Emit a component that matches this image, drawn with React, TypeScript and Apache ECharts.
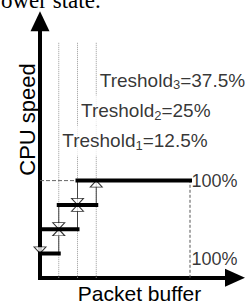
import React, { useEffect, useRef } from "react";
import * as echarts from "echarts";

// ---- data ----
const thresholds = [12.5, 25, 37.5];
const thresholdIndex = ["1", "2", "3"];
const speedLevels = [25, 50, 75, 100];
const stepStart = [0, 0, 12.5, 25];
const stepEnd = [12.5, 25, 37.5, 100];
const transitionX = [12.5, 25, 37.5];
const transitionLow = [25, 50, 75];
const transitionHigh = [75, 100, 100];
const riseArrows = [
  [12.5, 50],
  [25, 75],
  [37.5, 100],
];
const fallArrows = [
  [0, 25],
  [12.5, 50],
  [25, 75],
];
const fullBuffer = 100;
const fullSpeed = 100;
const fullLabel = "100%";
const yAxisName = "CPU speed";
const xAxisName = "Packet buffer";
const captionFragment = "ower state.";

// ---- layout ----
const X_MAX = 130;
const Y_MAX = 264;
const GUIDE_TOP = 242;
const LABEL_Y = [141, 172, 203];
const SANS = '"Liberation Sans", Arial, sans-serif';
const SERIF = '"Liberation Serif", "Times New Roman", serif';

function buildOption() {
  const series: any[] = [];
  thresholds.forEach((t) =>
    series.push({
      type: "line",
      data: [
        [t, 0],
        [t, GUIDE_TOP],
      ],
      symbol: "none",
      silent: true,
      z: 1,
      lineStyle: { color: "#9a9a9a", width: 1, type: [1, 1] },
    })
  );
  series.push({
    type: "line",
    data: [
      [0, fullSpeed],
      [stepStart[3], fullSpeed],
    ],
    symbol: "none",
    silent: true,
    z: 1,
    lineStyle: { color: "#666", width: 1, type: [4, 2] },
  });
  series.push({
    type: "line",
    data: [
      [fullBuffer, 0],
      [fullBuffer, fullSpeed],
    ],
    symbol: "none",
    silent: true,
    z: 1,
    lineStyle: { color: "#555", width: 1, type: [3, 2] },
  });
  transitionX.forEach((x, i) =>
    series.push({
      type: "line",
      data: [
        [x, transitionLow[i]],
        [x, transitionHigh[i]],
      ],
      symbol: "none",
      silent: true,
      z: 2,
      lineStyle: { color: "#444", width: 1 },
    })
  );
  series.push({
    type: "scatter",
    data: riseArrows,
    symbol: "triangle",
    symbolSize: [12, 6.5],
    symbolOffset: [0, 3.3],
    itemStyle: { color: "#fff", borderColor: "#000", borderWidth: 1 },
    silent: true,
    z: 3,
  });
  series.push({
    type: "scatter",
    data: fallArrows,
    symbol: "triangle",
    symbolSize: [12, 6.5],
    symbolRotate: 180,
    symbolOffset: [0, -3.3],
    itemStyle: { color: "#fff", borderColor: "#000", borderWidth: 1 },
    silent: true,
    z: 3,
  });
  speedLevels.forEach((s, i) =>
    series.push({
      type: "line",
      data: [
        [stepStart[i], s],
        [stepEnd[i], s],
      ],
      symbol: "none",
      silent: true,
      z: 4,
      lineStyle: { color: "#000", width: 4, cap: "square" },
    })
  );
  series.push({
    type: "scatter",
    symbolSize: 1,
    itemStyle: { color: "transparent" },
    silent: true,
    z: 5,
    data: thresholds.map((t, i) => ({ value: [t, LABEL_Y[i]] })),
    label: {
      show: true,
      position: "right",
      distance: 1,
      formatter: (p: any) =>
        `Treshold{s|${thresholdIndex[p.dataIndex]}}=${thresholds[p.dataIndex]}%`,
      color: "#000",
      fontFamily: SANS,
      fontSize: 19,
      lineHeight: 22,
      backgroundColor: "#fff",
      padding: [4, 1, 4, 2],
      rich: {
        s: {
          fontSize: 13,
          lineHeight: 13,
          verticalAlign: "bottom",
          fontFamily: SANS,
          color: "#000",
        },
      },
    },
  });
  series.push({
    type: "scatter",
    symbolSize: 1,
    itemStyle: { color: "transparent" },
    silent: true,
    z: 5,
    data: [
      { value: [fullBuffer, fullSpeed] },
      { value: [fullBuffer, 0], label: { offset: [0, -19] } },
    ],
    label: {
      show: true,
      position: "right",
      distance: 1,
      formatter: fullLabel,
      color: "#000",
      fontFamily: SANS,
      fontSize: 18,
    },
  });

  const axisCommon = {
    type: "value",
    axisTick: { show: false },
    axisLabel: { show: false },
    splitLine: { show: false },
  };

  return {
    animation: false,
    backgroundColor: "#fff",
    grid: { left: 40, right: 14, top: 21.2, bottom: 27.2 },
    xAxis: {
      ...axisCommon,
      min: 0,
      max: X_MAX,
      axisLine: {
        show: true,
        onZero: false,
        symbol: ["none", "triangle"],
        symbolSize: [18, 20],
        lineStyle: { color: "#000", width: 4, cap: "square" },
      },
    },
    yAxis: {
      ...axisCommon,
      min: 0,
      max: Y_MAX,
      axisLine: {
        show: true,
        onZero: false,
        symbol: ["none", "triangle"],
        symbolSize: [19, 20],
        lineStyle: { color: "#000", width: 4, cap: "square" },
      },
    },
    series,
    graphic: [
      {
        type: "text",
        x: 27,
        y: 119.5,
        rotation: Math.PI / 2,
        silent: true,
        style: {
          text: yAxisName,
          fill: "#000",
          font: `22px ${SANS}`,
          align: "center",
          verticalAlign: "middle",
        },
      },
      {
        type: "text",
        x: 139.5,
        y: 293,
        silent: true,
        style: {
          text: xAxisName,
          fill: "#000",
          font: `21px ${SANS}`,
          align: "center",
          verticalAlign: "middle",
        },
      },
      {
        type: "text",
        x: 1,
        y: 0.3,
        silent: true,
        style: {
          text: captionFragment,
          fill: "#000",
          font: `23px ${SERIF}`,
          align: "left",
          verticalAlign: "middle",
        },
      },
    ],
  };
}

export default function App() {
  const ref = useRef<HTMLDivElement>(null);
  useEffect(() => {
    const chart = echarts.init(ref.current!, undefined, { renderer: "svg" });
    chart.setOption(buildOption() as any);
    return () => chart.dispose();
  }, []);
  return (
    <div
      ref={ref}
      style={{
        position: "fixed",
        left: 0,
        top: 0,
        width: 249,
        height: 305,
        background: "#fff",
      }}
    />
  );
}
